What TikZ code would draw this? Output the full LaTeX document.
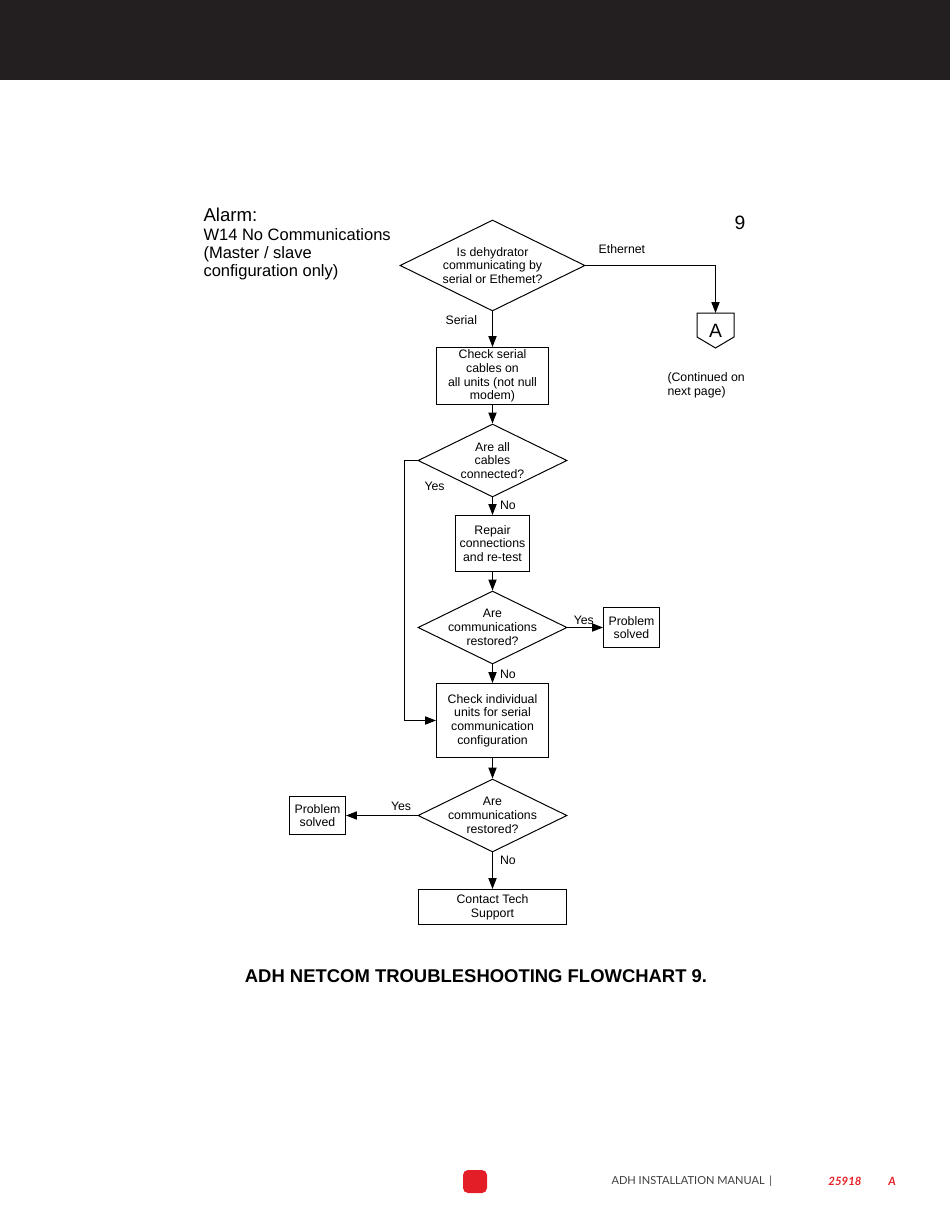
\documentclass[tikz,border=0pt]{standalone}
\usepackage{fontspec}
\setmainfont{Liberation Sans}
\newfontfamily\footfont{Lato}
\usepackage{tikz}
\usetikzlibrary{positioning, arrows.meta, calc, shapes.geometric}
\definecolor{headblack}{HTML}{231F20}
\definecolor{adhred}{HTML}{E41E26}
\definecolor{footgray}{HTML}{3F3F41}
\newcommand{\boxfont}{\fontsize{7}{7.8}\selectfont}
\tikzset{
    process/.style={
        rectangle,
        draw,
        align=center,
        inner sep=0pt,
        font=\boxfont
    },
    decision/.style={
        diamond,
        draw,
        inner sep=0pt,
        minimum width=29.8mm,
        minimum height=14.6mm
    },
    dtext/.style={
        align=center,
        inner sep=0pt,
        font=\boxfont
    },
    arrow/.style={
        -{Triangle[length=2.2mm,width=1.65mm]}
    },
    lbl/.style={
        inner sep=0pt,
        font=\boxfont
    }
}

\begin{document}
\begin{tikzpicture}[x=0.02cm, y=-0.02cm, line width=0.567pt]
    \useasboundingbox (0,0) rectangle (950,1229);
    \fill[headblack] (0,0) rectangle (950,80);

    % alarm heading
    \node[anchor=north west, inner sep=0pt, font=\fontsize{10.6}{12}\selectfont] (alarm) at (203,208) {Alarm:};
    \node[anchor=north west, inner sep=0pt, align=left, font=\fontsize{9.4}{10.3}\selectfont] (alarmtxt) at (203,228)
        {W14 No Communications\\(Master / slave\\configuration only)};
    \node[font=\fontsize{11}{13}\selectfont] (pagenum) at (740,223) {9};

    % flow
    \node[decision, minimum width=37mm, minimum height=18.2mm,
          label={[dtext]center:{Is dehydrator\\communicating by\\serial or Ethemet?}}] (d1) at (492.5,265.5) {};
    \node[process, minimum width=22.4mm, minimum height=11.4mm] (box1) at (492.5,376)
        {Check serial\\cables on\\all units (not null\\modem)};
    \node[decision, label={[dtext]center:{Are all\\cables\\connected?}}] (d2) at (492.5,460.5) {};
    \node[process, minimum width=14.8mm, minimum height=11.2mm] (box2) at (492.5,543.5)
        {Repair\\connections\\and re-test};
    \node[decision, label={[dtext]center:{Are\\communications\\restored?}}] (d3) at (492.5,627.5) {};
    \node[process, minimum width=11.2mm, minimum height=8mm] (solved1) at (631.5,627.5) {Problem\\solved};
    \node[process, minimum width=22.4mm, minimum height=14.8mm] (box3) at (492.5,720.5)
        {Check individual\\units for serial\\communication\\configuration};
    \node[decision, label={[dtext]center:{Are\\communications\\restored?}}] (d4) at (492.5,815.5) {};
    \node[process, minimum width=11.2mm, minimum height=7.6mm] (solved2) at (317.5,815.5) {Problem\\solved};
    \node[process, minimum width=29.6mm, minimum height=7mm] (support) at (492.5,907) {Contact Tech\\Support};

    % off page connector
    \node[minimum width=7.2mm, minimum height=6.8mm, inner sep=0pt, font=\fontsize{11}{13}\selectfont] (conA) at (715.5,330.5) {A};
    \draw (conA.north west) -- (conA.north east) -- ($(conA.south east)+(0,-11)$)
        -- (conA.south) -- ($(conA.south west)+(0,-11)$) -- cycle;
    \node[anchor=north west, inner sep=0pt, align=left, font=\boxfont] (contnote) at (667,372)
        {(Continued on\\next page)};

    \draw[arrow] (d1.east) -| node[lbl, pos=0.14, above=2.2mm] {Ethernet} (conA.north);
    \draw[arrow] (d1.south) -- node[lbl, pos=0.25, left=3mm] {Serial} (box1.north);
    \draw[arrow] (box1.south) -- (d2.north);
    \draw[arrow] (d2.west) node[lbl, below right=4.3mm and 1.3mm] {Yes} -- ++(-13.5,0) |- (box3.west);
    \draw[arrow] (d2.south) -- node[lbl, pos=0.42, right=1.4mm] {No} (box2.north);
    \draw[arrow] (box2.south) -- (d3.north);
    \draw[arrow] (d3.east) -- node[lbl, pos=0.46, above=0.5mm] {Yes} (solved1.west);
    \draw[arrow] (d3.south) -- node[lbl, pos=0.55, right=1.4mm] {No} (box3.north);
    \draw[arrow] (box3.south) -- (d4.north);
    \draw[arrow] (d4.west) -- node[lbl, pos=0.23, above=0.8mm] {Yes} (solved2.east);
    \draw[arrow] (d4.south) -- node[lbl, pos=0.22, right=1.4mm] {No} (support.north);

    \node[font=\bfseries\fontsize{10.5}{12}\selectfont] (caption) at (476,976)
        {ADH NETCOM TROUBLESHOOTING FLOWCHART 9.};

    % footer
    \fill[adhred, rounded corners=1mm] (463,1170) rectangle (487,1193);
    \node[anchor=west, inner sep=0pt, text=footgray, font=\footfont\fontsize{6.3}{7}\selectfont] (manual) at (611,1181)
        {ADH INSTALLATION MANUAL \,|};
    \node[inner sep=0pt, text=adhred, font=\footfont\bfseries\itshape\fontsize{6.5}{7}\selectfont] (docnum) at (845,1181) {25918};
    \node[inner sep=0pt, text=adhred, font=\footfont\bfseries\itshape\fontsize{6.5}{7}\selectfont] (docrev) at (892,1181) {A};
\end{tikzpicture}
\end{document}
